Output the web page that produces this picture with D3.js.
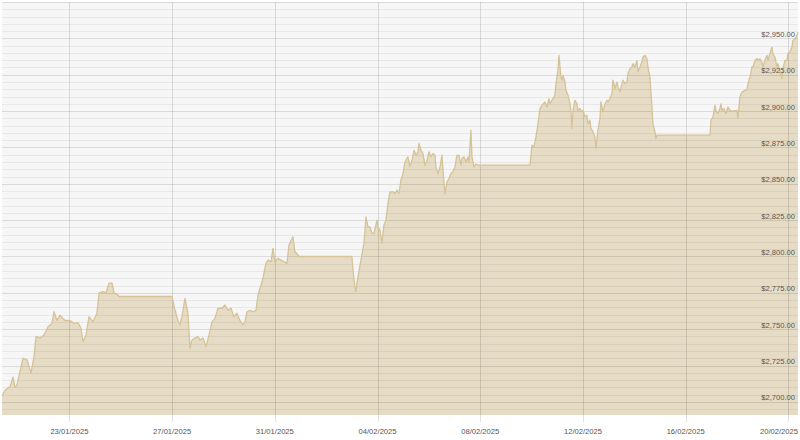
<!DOCTYPE html>
<html>
<head>
<meta charset="utf-8">
<script src="https://cdn.jsdelivr.net/npm/d3@7"></script>
<style>
  body { margin: 0; background: #fff; }
  svg { display: block; }
</style>
</head>
<body>
<script>
// hours after 20/01/2025 00:00 UTC, price in USD
const week1 = [[9,2704],[11.8,2708],[16.5,2710.5],[19.3,2717],[21.1,2710],[23,2711.7],[26.8,2724],[28.6,2730],[32.4,2729],[36.1,2720],[38.9,2731],[40.8,2745],[44.5,2744],[48.3,2746],[52,2751.7],[55.7,2754],[57.6,2762],[60.4,2756],[63.2,2759.7],[67.9,2756],[72.6,2756],[76.3,2754],[80,2754.5],[82.8,2750.8],[84.7,2741.4],[87.5,2746],[90.3,2758.6],[94,2755],[97.8,2761],[99.7,2775],[103.4,2775.8],[106.2,2775],[109,2781.7],[111.8,2781.7],[113.7,2775],[116.5,2774],[118.3,2772.5]];
const week2 = [[167.9,2772.5],[170.7,2763],[173.5,2756],[175.4,2753],[177.2,2758.6],[180,2771],[182.8,2761],[184.7,2737],[186.6,2742.6],[189.4,2744],[192.2,2745],[194,2742.6],[196.9,2744],[199.7,2738],[202.5,2746],[205.3,2755],[208.1,2757.5],[210.9,2764.4],[214.6,2764.4],[217.4,2766.6],[220.2,2763],[223,2764.5],[225.8,2758.6],[228.6,2761],[231.4,2756],[234.2,2753],[236.1,2755],[238,2762],[240.8,2763],[243.6,2762],[246.4,2763],[248.3,2773.5],[251.1,2780.4],[252.9,2785],[255.7,2795.3],[257.6,2797.5],[260.4,2796.4],[262.3,2805.6],[264.1,2796.4],[266.9,2798.7],[272.6,2796.4],[275.4,2795.3],[277.2,2807.8],[279.1,2811],[281,2813.5],[282.8,2803],[284.7,2802],[286.6,2800]];
const week3 = [[336.1,2800],[337,2790.7],[338.9,2779],[339.8,2775.8],[341.7,2786],[344.5,2797.5],[347.3,2809],[349.2,2827.3],[351,2820.4],[352.9,2820.4],[354.8,2815.8],[356.7,2815.8],[359.5,2825],[360.4,2820.4],[362.3,2818],[364.1,2809],[366,2821.6],[367.9,2825],[369.8,2836.5],[371.6,2844.5],[374.4,2844.5],[376.3,2843.3],[378.2,2845.6],[380,2843.3],[381.9,2852.5],[383.8,2857],[385.6,2865],[388.4,2868.5],[390.3,2862],[392.2,2866],[394.1,2873],[395.9,2869.6],[397.8,2872],[398.7,2877.7],[400.6,2873],[402.5,2870.8],[404.3,2862.8],[406.2,2866],[408.1,2872],[409.9,2868.5],[411.8,2870.8],[413.7,2869.6],[414.6,2861.6],[416.5,2857],[418.4,2861.6],[420.2,2869.6],[421.2,2859.3],[423,2843.3],[424.9,2851.3],[426.8,2853.6],[428.6,2857],[430.5,2858.2],[432.4,2861.6],[434.2,2869.6],[436.1,2869.6],[438,2862.8],[438.9,2867.4],[440.8,2868.5],[442.7,2865],[444.5,2868.5],[445.5,2865],[447.3,2886.8],[448.3,2868.5],[450.1,2861.6],[452,2863.5],[453.9,2862.8]];
const week4 = [[502.5,2862.8],[503.4,2869.6],[504.3,2876.5],[506.2,2875.4],[508.1,2882.2],[510,2891.4],[511.8,2901.7],[513.7,2904],[516.5,2906.3],[518.4,2902.8],[520.2,2908.6],[521.2,2905],[523,2907.4],[524.9,2909.7],[525.8,2910.9],[526.8,2918.9],[528.6,2928],[529.6,2938.3],[531.4,2923.4],[532.4,2921.2],[533.3,2924.6],[535.2,2920],[536.1,2914.3],[538,2910.9],[539.9,2905],[540.8,2899.4],[541.7,2888],[542.7,2900.5],[544.5,2907.4],[546.4,2905],[547.3,2900.5],[549.2,2901.7],[551.1,2899.4],[552,2900.5],[553.9,2895.9],[555.7,2897.1],[556.7,2891.4],[558.5,2893.7],[559.5,2888],[561.4,2885.7],[563.2,2882.2],[564.2,2874.2],[566,2886.8],[567.9,2894.8],[568.8,2906.3],[570.7,2899.4],[572.6,2905],[574.4,2907.4],[575.4,2906.3],[577.2,2908.6],[579.1,2912],[580,2921.2],[581.9,2915.5],[583.8,2920],[584.7,2916.6],[586.6,2913.2],[588.5,2918.9],[589.4,2921.2],[591.3,2918.9],[593.1,2920],[594.1,2925.8],[596,2929.2],[597.8,2930.3],[598.7,2932.6],[600.6,2930.3],[602.5,2934.9],[603.4,2926.9],[605.3,2930.3],[607.1,2933.7],[608.1,2937.2],[610,2938.3],[611.8,2936],[612.8,2930.3],[614.6,2923.4],[616.5,2902.8],[617.4,2891.4],[619.3,2885.7],[620.2,2881.1],[621.2,2883.4]];
const week5 = [[670.7,2883.4],[671.6,2893.7],[673.5,2895.9],[675.4,2904],[676.3,2900.5],[678.2,2898.3],[680,2901.7],[681,2905],[681.9,2900.5],[683.8,2901.7],[685.6,2898.3],[687.5,2902.8],[689.4,2900.5],[692.2,2900],[695.9,2900.5],[696.8,2894.8],[698.7,2909.7],[700.6,2913.2],[701.5,2913.2],[703.4,2914.3],[705.3,2914.3],[706.2,2918.9],[708.1,2923.4],[710,2930.3],[710.9,2930.3],[712.8,2934.9],[714.6,2936],[715.6,2934.9],[717.4,2936],[719.3,2933.7],[720.2,2930.3],[722.1,2934.9],[724,2938.3],[724.9,2934.9],[726.8,2939.5],[728.6,2944],[729.6,2939.5],[731.4,2937.2],[733.3,2930.3],[734.2,2932.6],[736.1,2928],[738,2922.3],[738.9,2929.2],[740.8,2934.9],[742.7,2934.9],[743.6,2939.5],[745.5,2940.6],[747.3,2944],[748.3,2948.6],[750.2,2949.7],[752,2952],[753,2954.3]];

const tickDates = ["2025-01-23","2025-01-27","2025-01-31","2025-02-04","2025-02-08","2025-02-12","2025-02-16","2025-02-20"];
const priceTicks = [2700,2725,2750,2775,2800,2825,2850,2875,2900,2925,2950];

const start = Date.UTC(2025, 0, 20);
const data = [].concat(week1, week2, week3, week4, week5)
  .map(d => ({date: new Date(start + d[0] * 3600000), price: d[1]}));

const width = 800, height = 440;
const plot = {left: 2, right: 798, top: 2, bottom: 415};

const svg = d3.select("body")
  .append("svg")
  .attr("width", width)
  .attr("height", height);

const x = d3.scaleUtc()
  .domain([new Date(Date.UTC(2025, 0, 20, 9)), new Date(Date.UTC(2025, 1, 20, 9))])
  .range([plot.left, plot.right]);

const y = d3.scaleLinear()
  .domain([2691, 2975])
  .range([plot.bottom, plot.top]);

// plot background
svg.append("rect")
  .attr("x", plot.left)
  .attr("y", plot.top)
  .attr("width", plot.right - plot.left)
  .attr("height", plot.bottom - plot.top)
  .attr("fill", "#f6f6f6");

// price area + line
const area = d3.area()
  .x(d => x(d.date))
  .y0(plot.bottom)
  .y1(d => y(d.price));

const line = d3.line()
  .x(d => x(d.date))
  .y(d => y(d.price));

svg.append("path")
  .datum(data)
  .attr("d", area)
  .attr("fill", "#e6dcc5");

// horizontal grid: minor every $5, major every $25
const minor = d3.range(2695, 2976, 5).filter(v => v % 25 !== 0);
svg.append("g")
  .selectAll("line")
  .data(minor)
  .join("line")
  .attr("x1", plot.left).attr("x2", plot.right)
  .attr("y1", d => Math.round(y(d)) + 0.5).attr("y2", d => Math.round(y(d)) + 0.5)
  .attr("stroke", "rgba(0,0,0,0.055)");

svg.append("g")
  .selectAll("line")
  .data(priceTicks.concat([2975]))
  .join("line")
  .attr("x1", plot.left).attr("x2", plot.right)
  .attr("y1", d => Math.round(y(d)) + 0.5).attr("y2", d => Math.round(y(d)) + 0.5)
  .attr("stroke", "rgba(0,0,0,0.11)");

// vertical grid + ticks
const xTicks = tickDates.map(s => new Date(s + "T00:00:00Z"));
svg.append("g")
  .selectAll("line")
  .data(xTicks)
  .join("line")
  .attr("x1", d => Math.round(x(d)) + 0.5).attr("x2", d => Math.round(x(d)) + 0.5)
  .attr("y1", plot.top).attr("y2", plot.bottom + 7)
  .attr("stroke", "rgba(0,0,0,0.12)");

svg.append("path")
  .datum(data)
  .attr("d", line)
  .attr("fill", "none")
  .attr("stroke", "#d5c398")
  .attr("stroke-width", 1.3)
  .attr("stroke-linejoin", "round");

// x labels (last one kept inside the edge)
const fmtDate = d3.utcFormat("%d/%m/%Y");
svg.append("g")
  .selectAll("text")
  .data(xTicks)
  .join("text")
  .attr("x", d => Math.min(x(d), width - 2 - 19))
  .attr("y", 434)
  .attr("text-anchor", "middle")
  .attr("font-family", "Liberation Sans, Arial, sans-serif")
  .attr("font-size", 7.6)
  .attr("fill", "#555")
  .text(d => fmtDate(d));

// y labels, right side above each major line
const fmtPrice = d3.format("$,.2f");
svg.append("g")
  .selectAll("text")
  .data(priceTicks)
  .join("text")
  .attr("x", 795)
  .attr("y", d => y(d) - 1.5)
  .attr("text-anchor", "end")
  .attr("font-family", "Liberation Sans, Arial, sans-serif")
  .attr("font-size", 7.6)
  .attr("fill", "#555")
  .text(d => fmtPrice(d));
</script>
</body>
</html>
